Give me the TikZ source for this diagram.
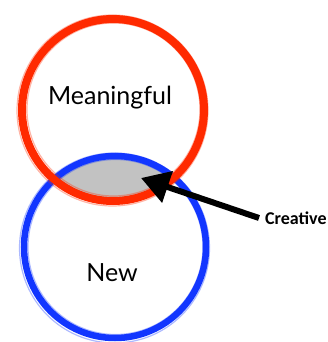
\documentclass[tikz,border=0pt]{standalone}
\usepackage{fontspec}
\setmainfont{Carlito}
\newfontfamily\handfont{Lato}
\usetikzlibrary{arrows.meta}
\definecolor{vred}{HTML}{FF2A00}
\definecolor{vblue}{HTML}{1236FF}
\definecolor{vgray}{HTML}{C2C2C2}
\tikzset{
  redring/.style={draw=vred, line width=8pt},
  bluering/.style={draw=vblue, line width=6.5pt},
  brush/.style={line width=1.2pt, opacity=0.35},
  label/.style={font=\handfont\fontsize{25}{27}\selectfont, text=black},
  tag/.style={font=\bfseries\fontsize{18}{20}\selectfont, text=black, inner sep=0pt, anchor=west},
  bigarrow/.style={line width=6pt, -{Triangle[length=28pt,width=32pt]}}
}
\begin{document}
\begin{tikzpicture}[x=1pt,y=-1pt]
\useasboundingbox (0,0) rectangle (328,342);
\coordinate (rc) at (113,110);
\coordinate (bc) at (115,247);
% gray lens
\begin{scope}
  \clip (rc) circle (88);
  \fill[vgray] (bc) circle (88);
\end{scope}
% blue ring
\draw[bluering] (bc) circle (91);
\draw[brush, draw=vblue] ([xshift=-0.5pt,yshift=-1pt]bc) circle (95);
\draw[brush, draw=vblue] ([xshift=0.5pt]bc) circle (87.5);
% red ring
\draw[redring] (rc) circle (91);
\draw[brush, draw=vred] ([xshift=-0.5pt,yshift=-0.5pt]rc) circle (95.5);
\draw[brush, draw=vred] ([xshift=0.5pt,yshift=0.5pt]rc) circle (86.5);
% labels
\node[label] (meaningful) at (110,98) {Meaningful};
\node[label] (new) at (112,273) {New};
\node[tag] (creative) at (265,218) {Creative};
\coordinate (tip) at (141,178);
\draw[bigarrow] ([xshift=-6pt]creative.west) -- (tip);
\end{tikzpicture}
\end{document}
